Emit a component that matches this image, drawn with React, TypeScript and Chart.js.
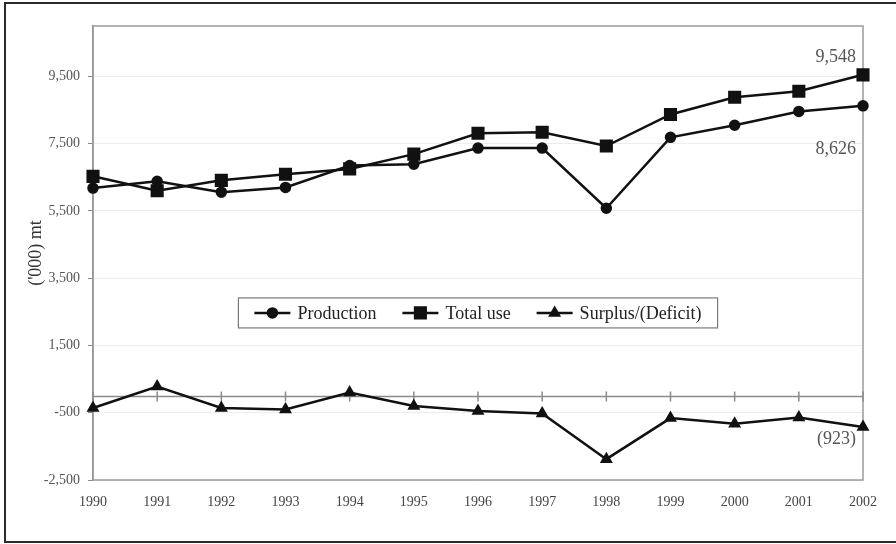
import React, { useEffect, useRef } from 'react';
import { Chart, registerables } from 'chart.js';
import { drawPoint } from 'chart.js/helpers';

Chart.register(...registerables);

const YEARS = ['1990', '1991', '1992', '1993', '1994', '1995', '1996', '1997', '1998', '1999', '2000', '2001', '2002'];
const PRODUCTION = [6180, 6380, 6060, 6200, 6850, 6890, 7370, 7370, 5580, 7690, 8050, 8460, 8626];
const TOTAL_USE = [6530, 6100, 6410, 6590, 6750, 7190, 7810, 7840, 7430, 8370, 8880, 9060, 9548];
const SURPLUS = [-360, 280, -360, -400, 100, -300, -450, -520, -1880, -660, -830, -640, -923];
const Y_TICKS = [-2500, -500, 1500, 3500, 5500, 7500, 9500];
const Y_MIN = -2500;
const Y_MAX = 11000;
const Y_TITLE = "('000) mt";

const SERIF = "'Liberation Serif', 'Times New Roman', serif";

const fmt = (v: number) => (v < 0 ? `(${Math.abs(v).toLocaleString('en-US')})` : v.toLocaleString('en-US'));

const framePlugin = {
  id: 'frame',
  beforeDraw(chart: any) {
    const { ctx, width, height } = chart;
    ctx.save();
    ctx.fillStyle = '#ffffff';
    ctx.fillRect(0, 0, width, height);
    ctx.strokeStyle = '#2a2a2a';
    ctx.lineWidth = 2;
    ctx.strokeRect(5, 3, width + 20, height - 5);
    ctx.restore();
  },
  beforeDatasetsDraw(chart: any) {
    const { ctx, chartArea } = chart;
    const xs = chart.scales.x;
    const ys = chart.scales.y;
    ctx.save();
    ctx.strokeStyle = '#9a9a9a';
    ctx.lineWidth = 1.5;
    ctx.strokeRect(chartArea.left, chartArea.top, chartArea.right - chartArea.left, chartArea.bottom - chartArea.top);
    const y0 = Math.round(ys.getPixelForValue(0)) + 0.5;
    ctx.strokeStyle = '#8a8a8a';
    ctx.lineWidth = 1.5;
    ctx.beginPath();
    ctx.moveTo(chartArea.left, y0);
    ctx.lineTo(chartArea.right, y0);
    for (let i = 0; i < YEARS.length; i++) {
      const x = xs.getPixelForValue(i);
      ctx.moveTo(x, y0 - 5);
      ctx.lineTo(x, y0 + 5);
    }
    ctx.stroke();
    ctx.restore();
  },
  afterDatasetsDraw(chart: any) {
    const { ctx } = chart;
    ctx.save();
    ctx.font = `18px ${SERIF}`;
    ctx.fillStyle = '#555555';
    ctx.textAlign = 'right';
    ctx.textBaseline = 'middle';
    const offsets: Record<string, number> = { 'Total use': -18, Production: 43, 'Surplus/(Deficit)': 12 };
    chart.data.datasets.forEach((ds: any, i: number) => {
      const meta = chart.getDatasetMeta(i);
      const last = meta.data[meta.data.length - 1];
      const v = ds.data[ds.data.length - 1];
      ctx.fillText(fmt(v), last.x - 7, last.y + (offsets[ds.label] || 0));
    });
    ctx.restore();
  },
  afterDraw(chart: any) {
    const { ctx, chartArea } = chart;
    const dsets = chart.data.datasets;
    ctx.save();
    ctx.font = `18px ${SERIF}`;
    const lineLen = 36;
    const gapAfterLine = 7;
    const gapItems = 26;
    const padX = 16;
    const widths = dsets.map((d: any) => ctx.measureText(d.label).width);
    const total = widths.reduce((a: number, b: number) => a + b, 0) + dsets.length * (lineLen + gapAfterLine) + (dsets.length - 1) * gapItems;
    const boxW = total + padX * 2;
    const boxH = 30;
    const cx = (chartArea.left + chartArea.right) / 2;
    const cy = chartArea.top + (chartArea.bottom - chartArea.top) * 0.632;
    const bx = cx - boxW / 2;
    const by = cy - boxH / 2;
    ctx.fillStyle = '#ffffff';
    ctx.fillRect(bx, by, boxW, boxH);
    ctx.strokeStyle = '#7a7a7a';
    ctx.lineWidth = 1.2;
    ctx.strokeRect(bx, by, boxW, boxH);
    let x = bx + padX;
    dsets.forEach((d: any, i: number) => {
      ctx.strokeStyle = d.borderColor;
      ctx.lineWidth = d.borderWidth;
      ctx.beginPath();
      ctx.moveTo(x, cy);
      ctx.lineTo(x + lineLen, cy);
      ctx.stroke();
      ctx.fillStyle = d.pointBackgroundColor;
      ctx.strokeStyle = d.pointBorderColor;
      drawPoint(ctx, { pointStyle: d.pointStyle, rotation: 0, borderWidth: 1, radius: d.pointRadius }, x + lineLen / 2, cy);
      ctx.fillStyle = '#222222';
      ctx.textAlign = 'left';
      ctx.textBaseline = 'middle';
      ctx.fillText(d.label, x + lineLen + gapAfterLine, cy + 1);
      x += lineLen + gapAfterLine + widths[i] + gapItems;
    });
    ctx.restore();
  },
};

function makeDataset(label: string, data: number[], style: string, radius: number) {
  return {
    label,
    data,
    borderColor: '#111111',
    backgroundColor: '#111111',
    pointBackgroundColor: '#111111',
    pointBorderColor: '#111111',
    borderWidth: 2.5,
    pointStyle: style,
    pointRadius: radius,
    pointHoverRadius: radius,
    tension: 0,
    fill: false,
  };
}

export default function App() {
  const ref = useRef<HTMLCanvasElement | null>(null);
  useEffect(() => {
    if (!ref.current) return;
    const chart = new Chart(ref.current, {
      type: 'line',
      data: {
        labels: YEARS,
        datasets: [
          makeDataset('Production', PRODUCTION, 'circle', 4.5),
          makeDataset('Total use', TOTAL_USE, 'rect', 7.5),
          makeDataset('Surplus/(Deficit)', SURPLUS, 'triangle', 5),
        ] as any,
      },
      options: {
        animation: false,
        responsive: false,
        devicePixelRatio: 1,
        layout: { padding: { left: 21, top: 26, right: 33, bottom: 0 } },
        plugins: {
          legend: { display: false },
          tooltip: { enabled: false },
        },
        scales: {
          x: {
            type: 'category',
            offset: false,
            grid: { display: false, drawTicks: false },
            border: { display: false },
            ticks: {
              color: '#444444',
              font: { family: SERIF, size: 14 },
              padding: 14,
              maxRotation: 0,
              autoSkip: false,
            },
            afterFit: (s: any) => {
              s.height = 64;
            },
          },
          y: {
            min: Y_MIN,
            max: Y_MAX,
            grid: { color: '#ececec', tickColor: '#8a8a8a', tickLength: 5, lineWidth: 1 },
            border: { display: true, color: '#8a8a8a', width: 1.5 },
            title: {
              display: true,
              text: Y_TITLE,
              color: '#333333',
              font: { family: SERIF, size: 18 },
            },
            ticks: {
              color: '#555555',
              font: { family: SERIF, size: 14 },
              padding: 8,
              autoSkip: false,
              callback: (v: any) => Number(v).toLocaleString('en-US'),
            },
            afterBuildTicks: (s: any) => {
              s.ticks = Y_TICKS.map((v) => ({ value: v }));
            },
            afterFit: (s: any) => {
              s.width = 72;
            },
          },
        },
      },
      plugins: [framePlugin],
    });
    return () => chart.destroy();
  }, []);
  return (
    <div style={{ position: 'absolute', left: 0, top: 0, width: 896, height: 544, background: '#fff' }}>
      <canvas ref={ref} width={896} height={544} style={{ display: 'block', width: 896, height: 544 }} />
    </div>
  );
}
